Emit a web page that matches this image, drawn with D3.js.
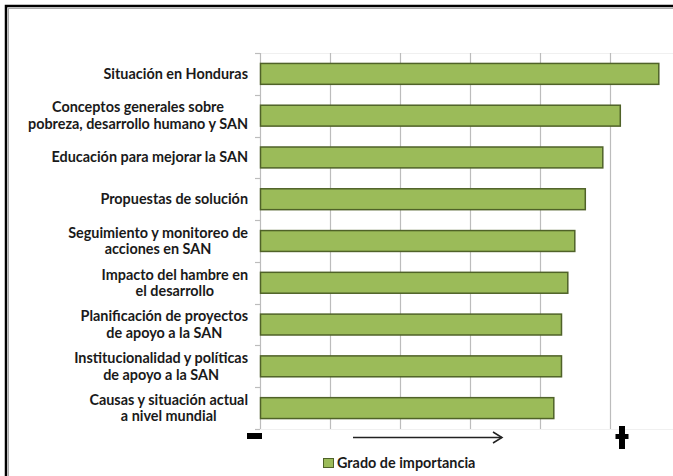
<!DOCTYPE html>
<html>
<head>
<meta charset="utf-8">
<script src="https://cdn.jsdelivr.net/npm/d3@7"></script>
<style>
  body { margin: 0; background: #fff; }
  svg { display: block; }
  text { font-family: Lato, "Open Sans", sans-serif; font-weight: bold; fill: #1a1a1a; }
</style>
</head>
<body>
<div id="chart"></div>
<script>
// categories, top to bottom (each entry = lines of the label)
const categories = [
    ["Situación en Honduras"],
    ["Conceptos generales sobre", "pobreza, desarrollo humano y SAN"],
    ["Educación para mejorar la SAN"],
    ["Propuestas de solución"],
    ["Seguimiento y monitoreo de", "acciones en SAN"],
    ["Impacto del hambre en", "el desarrollo"],
    ["Planificación de proyectos", "de apoyo a la SAN"],
    ["Institucionalidad y políticas", "de apoyo a la SAN"],
    ["Causas y situación actual", "a nivel mundial"]
]
const values = [5.69, 5.14, 4.89, 4.64, 4.49, 4.39, 4.30, 4.30, 4.19]
const xTicks = [0, 1, 2, 3, 4, 5, 6]
const seriesName = "Grado de importancia"

const W = 673, H = 476
const margin = {top: 53, bottom: 47, left: 260, right: -7}
const barFill = "#9bbb59", barStroke = "#4f6228", gridColor = "#bcbcbc"

const svg = d3.select("#chart").append("svg")
    .attr("width", W).attr("height", H)

// outer frame
svg.append("rect").attr("x", 6).attr("y", 6).attr("width", 720).attr("height", 520)
    .attr("fill", "none").attr("stroke", "#000").attr("stroke-width", 2.5)
svg.append("rect").attr("x", 8.5).attr("y", 8.5).attr("width", 720).attr("height", 520)
    .attr("fill", "none").attr("stroke", "#aaa").attr("stroke-width", 1)

const idx = d3.range(categories.length)
const xScale = d3.scaleLinear().domain([0, 6]).range([margin.left, W - margin.right])
const yScale = d3.scaleBand().domain(idx).range([margin.top, H - margin.bottom]).paddingInner(0.5).paddingOuter(0.25)

// faint plot border lines
svg.append("line").attr("x1", margin.left).attr("x2", W).attr("y1", margin.top + 0.5).attr("y2", margin.top + 0.5)
    .attr("stroke", "#f0f0f0")
svg.append("line").attr("x1", margin.left).attr("x2", W).attr("y1", H - margin.bottom + 0.5).attr("y2", H - margin.bottom + 0.5)
    .attr("stroke", "#f0f0f0")

// gridlines
svg.append("g").selectAll("line.grid")
    .data(xTicks.slice(1))
    .enter().append("line")
    .attr("class", "grid")
    .attr("x1", d => Math.round(xScale(d)) + 0.5).attr("x2", d => Math.round(xScale(d)) + 0.5)
    .attr("y1", margin.top).attr("y2", H - margin.bottom)
    .attr("stroke", gridColor).attr("stroke-width", 1.2)

// y axis line + ticks at band boundaries
svg.append("line").attr("x1", margin.left + 0.5).attr("x2", margin.left + 0.5)
    .attr("y1", margin.top).attr("y2", H - margin.bottom)
    .attr("stroke", gridColor).attr("stroke-width", 1.2)
const bounds = d3.range(categories.length + 1).map(i => margin.top + i * (H - margin.bottom - margin.top) / categories.length)
svg.append("g").selectAll("line.tick")
    .data(bounds)
    .enter().append("line")
    .attr("x1", margin.left - 5).attr("x2", margin.left)
    .attr("y1", d => Math.round(d) + 0.5).attr("y2", d => Math.round(d) + 0.5)
    .attr("stroke", gridColor).attr("stroke-width", 1.2)

// bars
svg.append("g").selectAll("rect.bar")
    .data(values)
    .enter().append("rect")
    .attr("class", "bar")
    .attr("x", xScale(0) + 0.5)
    .attr("y", (d, i) => yScale(i))
    .attr("width", d => xScale(d) - xScale(0))
    .attr("height", yScale.bandwidth())
    .attr("fill", barFill)
    .attr("stroke", barStroke).attr("stroke-width", 1.5)

// category labels (multi-line centered block, right aligned)
const labelRight = 248
const fs = 14.4, lh = 16.5
const labels = svg.append("g").selectAll("g.lbl")
    .data(categories)
    .enter().append("g").attr("class", "lbl")
labels.each(function(lines, i) {
    const g = d3.select(this)
    const cy = yScale(i) + yScale.bandwidth() / 2
    const texts = lines.map((l, j) => g.append("text")
        .attr("font-size", fs)
        .attr("y", cy + (j - (lines.length - 1) / 2) * lh + 5)
        .text(l))
    const widths = texts.map(t => t.node().getComputedTextLength())
    const maxW = d3.max(widths)
    const center = labelRight - maxW / 2
    texts.forEach(t => t.attr("x", center).attr("text-anchor", "middle"))
})

// minus / arrow / plus under the axis
svg.append("rect").attr("x", 247).attr("y", 433).attr("width", 15).attr("height", 6).attr("fill", "#000")
svg.append("line").attr("x1", 353).attr("x2", 502).attr("y1", 437.5).attr("y2", 437.5)
    .attr("stroke", "#222").attr("stroke-width", 1.5)
svg.append("path").attr("d", "M493,432 L502,437.5 L493,443")
    .attr("fill", "none").attr("stroke", "#222").attr("stroke-width", 1.5)
svg.append("rect").attr("x", 619).attr("y", 426).attr("width", 6).attr("height", 23).attr("fill", "#000")
svg.append("rect").attr("x", 615.5).attr("y", 434).attr("width", 13).attr("height", 5).attr("fill", "#000")

// legend
svg.append("rect").attr("x", 323.5).attr("y", 458.5).attr("width", 10).attr("height", 9)
    .attr("fill", barFill).attr("stroke", barStroke).attr("stroke-width", 1)
svg.append("text").attr("x", 337).attr("y", 467.5).attr("font-size", fs).text(seriesName)
</script>
</body>
</html>
